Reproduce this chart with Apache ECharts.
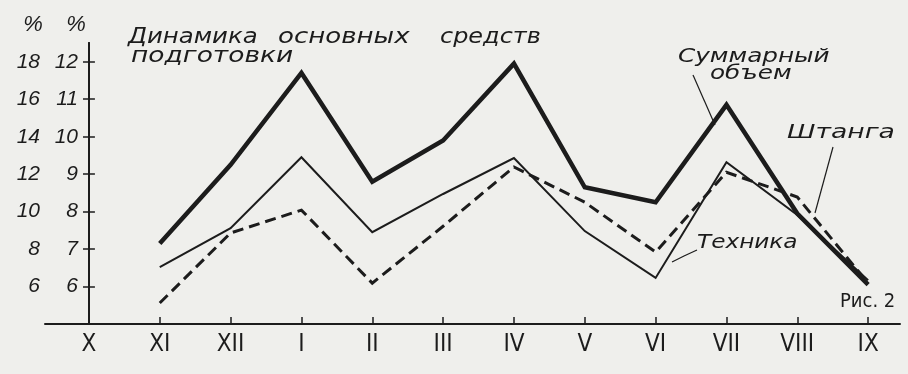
<!DOCTYPE html>
<html>
<head>
<meta charset="utf-8">
<script src="https://cdn.jsdelivr.net/npm/echarts@6/dist/echarts.min.js"></script>
<style>
html,body{margin:0;padding:0;background:#efefec;}
#c{width:908px;height:374px;}
</style>
</head>
<body>
<div id="c"></div>
<script>
// Months of the training year
const categories = ['X', 'XI', 'XII', 'I', 'II', 'III', 'IV', 'V', 'VI', 'VII', 'VIII', 'IX'];
// Суммарный объем (outer scale, %)
const totalVolume = [null, 8.3, 12.5, 17.4, 11.6, 13.8, 17.9, 11.3, 10.5, 15.7, 9.9, 6.1];
// Техника (inner scale, %)
const technique = [null, 6.52, 7.56, 9.45, 7.45, 8.47, 9.43, 7.48, 6.23, 9.32, 7.91, 6.17];
// Штанга (inner scale, %)
const barbell = [null, 5.56, 7.43, 8.04, 6.09, 7.61, 9.19, 8.25, 6.92, 9.05, 8.39, 6.09];
// Tick labels
const outerTicks = [6, 8, 10, 12, 14, 16, 18];
const innerTicks = [6, 7, 8, 9, 10, 11, 12];

const ink = '#1c1c1c';
const toPairs = arr => arr.map((v, i) => v == null ? null : [i, v]).filter(p => p);
const catIdx = categories.map((c, i) => i);
const condensed = "'DejaVu Sans Condensed', 'Liberation Sans', sans-serif";

const chart = echarts.init(document.getElementById('c'), null, {renderer: 'canvas'});
const numFont = {fontFamily: 'Liberation Sans', fontStyle: 'italic', fontSize: 21, color: ink};
const hand = (text, x, y, size, sx) => ({
  type: 'text', x: x, y: y, scaleX: sx, z: 10,
  style: {text: text, fontFamily: 'DejaVu Sans', fontStyle: 'italic', fontSize: size, fill: ink,
    textAlign: 'left', textVerticalAlign: 'top'}
});

chart.setOption({
  backgroundColor: '#efefec',
  animation: false,
  grid: {left: 45, right: 8, top: 43, bottom: 50, containLabel: false},
  xAxis: {
    type: 'value', min: -0.62, max: 11.45,
    splitLine: {show: false},
    axisLine: {show: true, lineStyle: {color: ink, width: 2}},
    axisTick: {show: true, inside: true, length: 7, customValues: catIdx, lineStyle: {color: ink, width: 1.5}},
    axisLabel: {customValues: catIdx, formatter: v => categories[Math.round(v)], margin: 9,
      fontFamily: condensed, fontSize: 24, color: ink}
  },
  yAxis: [
    {
      type: 'value', position: 'left', offset: 0, min: 4, max: 19,
      splitLine: {show: false},
      axisLine: {show: true, lineStyle: {color: ink, width: 2}},
      axisTick: {show: true, inside: true, length: 6, customValues: outerTicks, lineStyle: {color: ink, width: 1.5}},
      axisLabel: Object.assign({customValues: outerTicks, margin: 5}, numFont)
    },
    {
      type: 'value', position: 'left', offset: -44, min: 5, max: 12.5,
      splitLine: {show: false},
      axisLine: {show: true, lineStyle: {color: ink, width: 2}},
      axisTick: {show: true, inside: false, length: 6, customValues: innerTicks, lineStyle: {color: ink, width: 1.5}},
      axisLabel: Object.assign({customValues: innerTicks, margin: 11}, numFont)
    }
  ],
  series: [
    {name: 'Суммарный объем', type: 'line', yAxisIndex: 0, data: toPairs(totalVolume), showSymbol: false,
      lineStyle: {color: ink, width: 4.5, join: 'miter'}},
    {name: 'Техника', type: 'line', yAxisIndex: 1, data: toPairs(technique), showSymbol: false,
      lineStyle: {color: ink, width: 2, join: 'miter'}},
    {name: 'Штанга', type: 'line', yAxisIndex: 1, data: toPairs(barbell), showSymbol: false,
      lineStyle: {color: ink, width: 3, type: [11, 6], join: 'miter'}}
  ],
  graphic: [
    {type: 'text', x: 33, y: 25, style: {text: '%', fontFamily: 'Liberation Sans', fontStyle: 'italic', fontSize: 22, fill: ink, textAlign: 'center', textVerticalAlign: 'middle'}},
    {type: 'text', x: 76, y: 25, style: {text: '%', fontFamily: 'Liberation Sans', fontStyle: 'italic', fontSize: 22, fill: ink, textAlign: 'center', textVerticalAlign: 'middle'}},
    hand('Динамика', 128, 27, 21, 1.16),
    hand('основных', 278, 27, 21, 1.24),
    hand('средств', 440, 27, 21, 1.14),
    hand('подготовки', 131, 46, 21, 1.26),
    hand('Суммарный', 678, 48, 19, 1.3),
    hand('объем', 710, 65, 19, 1.3),
    hand('Штанга', 787, 124, 19, 1.4),
    hand('Техника', 697, 234, 19, 1.22),
    {type: 'text', x: 840, y: 292, style: {text: 'Рис. 2', fontFamily: condensed, fontSize: 20, fill: ink, textAlign: 'left', textVerticalAlign: 'top'}},
    {type: 'line', shape: {x1: 693, y1: 75, x2: 715, y2: 125}, style: {stroke: ink, lineWidth: 1.2}},
    {type: 'line', shape: {x1: 833, y1: 147, x2: 815, y2: 213}, style: {stroke: ink, lineWidth: 1.2}},
    {type: 'polyline', shape: {points: [[697, 250], [684, 256], [672, 262]]}, style: {stroke: ink, lineWidth: 1.2, fill: null}}
  ]
});
</script>
</body>
</html>
